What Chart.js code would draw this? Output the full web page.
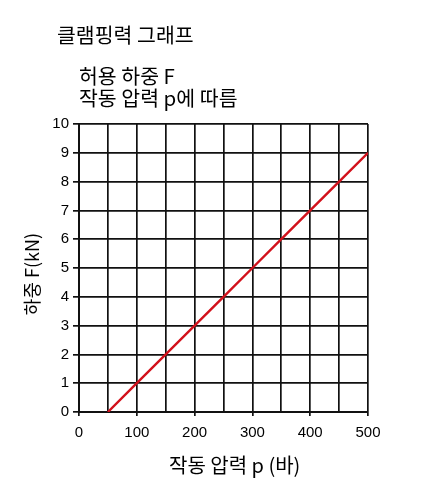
<!DOCTYPE html>
<html>
<head>
<meta charset="utf-8">
<script src="https://cdn.jsdelivr.net/npm/chart.js@4/dist/chart.umd.min.js"></script>
<style>
  html, body { margin: 0; padding: 0; background: #fff; }
  #wrap { width: 436px; height: 497px; }
</style>
</head>
<body>
<div id="wrap"><canvas id="chart"></canvas></div>
<script>
"use strict";

// values
const pressure = [50, 100, 150, 200, 250, 300, 350, 400, 450, 500];   // bar
const load = [0, 1, 2, 3, 4, 5, 6, 7, 8, 9];                          // kN
const xTicks = [0, 100, 200, 300, 400, 500];
const headline = "클램핑력 그래프";
const subLines = ["허용 하중 F", "작동 압력 p에 따름"];
// padded with spaces so the centred title sits where the original has it
const xTitle = "     작동 압력 p (바)";
const yTitle = "하중 F(kN)   ";

const KR_FONT = "'Noto Sans CJK KR', 'Noto Sans', sans-serif";
const NUM_FONT = "'Liberation Sans', Arial, sans-serif";

// heading text above the plot
const headingPlugin = {
    id: "headings",
    afterDraw(chart) {
        const ctx = chart.ctx;
        ctx.save();
        ctx.fillStyle = "#000";
        ctx.textBaseline = "middle";
        ctx.textAlign = "left";
        ctx.font = "20.5px " + KR_FONT;
        ctx.fillText(headline, 57, 35);
        subLines.forEach((t, i) => ctx.fillText(t, chart.chartArea.left, 76 + i * 22));
        ctx.restore();
    }
};

const points = pressure.map((p, i) => ({x: p, y: load[i]}));

new Chart(document.getElementById("chart"), {
    type: "scatter",
    data: {
        datasets: [{
            data: points,
            showLine: true,
            borderColor: "#d2111b",
            borderWidth: 2.4,
            pointRadius: 0,
            pointHoverRadius: 0,
        }],
    },
    options: {
        responsive: true,
        maintainAspectRatio: false,
        animation: false,
        layout: {padding: {top: 124, right: 68, bottom: 0, left: 0}},
        plugins: {
            legend: {display: false},
            tooltip: {enabled: false},
        },
        scales: {
            x: {
                type: "linear",
                min: 0,
                max: 500,
                afterFit: (s) => { s.height = 85; },
                afterBuildTicks: (s) => {
                    s.ticks = [];
                    for (let v = 0; v <= 500; v += 50) s.ticks.push({value: v});
                },
                ticks: {
                    autoSkip: false,
                    maxRotation: 0,
                    padding: 8,
                    color: "#000",
                    font: {family: NUM_FONT, size: 15},
                    callback: (v) => xTicks.includes(v) ? String(v) : "",
                },
                grid: {
                    color: "#111",
                    lineWidth: 1.7,
                    tickLength: 4,
                    tickColor: (c) => (c.tick && xTicks.includes(c.tick.value)) ? "#111" : "rgba(0,0,0,0)",
                },
                border: {color: "#111", width: 2},
                title: {
                    display: true,
                    text: xTitle,
                    color: "#000",
                    font: {family: KR_FONT, size: 20},
                    padding: {top: 20, bottom: 20},
                },
            },
            y: {
                min: 0,
                max: 10,
                afterFit: (s) => { s.width = 79; },
                ticks: {
                    stepSize: 1,
                    padding: 4,
                    color: "#000",
                    font: {family: NUM_FONT, size: 15},
                },
                grid: {
                    color: "#111",
                    lineWidth: 1.7,
                    tickLength: 6,
                    tickColor: "#111",
                },
                border: {color: "#111", width: 2},
                title: {
                    display: true,
                    text: yTitle,
                    color: "#000",
                    font: {family: KR_FONT, size: 18},
                    padding: {top: 21, bottom: 0},
                },
            },
        },
    },
    plugins: [headingPlugin],
});
</script>
</body>
</html>
